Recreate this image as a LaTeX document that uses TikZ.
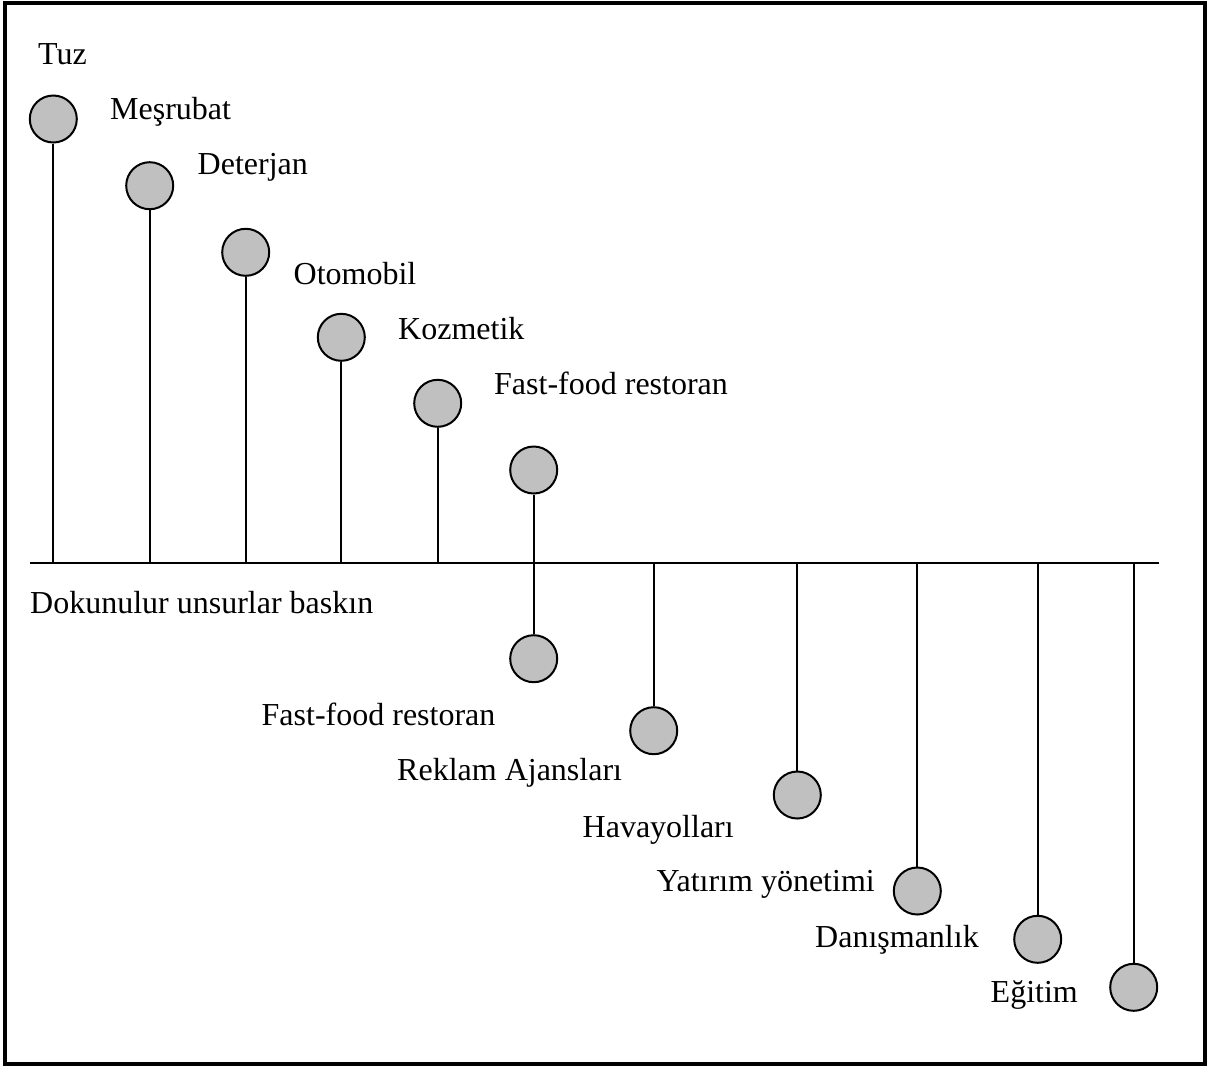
\documentclass[tikz,border=0pt]{standalone}
\usepackage{fontspec}
\setmainfont{Liberation Serif}
\definecolor{ballgray}{RGB}{192,192,192}
\begin{document}
\begin{tikzpicture}[x=1pt,y=-1pt,
  ball/.style={circle,draw=black,fill=ballgray,line width=2pt,minimum size=47pt,inner sep=0pt},
  stem/.style={line width=2pt},
  lbl/.style={anchor=base west,inner sep=0pt,font=\fontsize{32}{38}\selectfont}]
  % page frame
  \useasboundingbox (0,0) rectangle (1207,1066);
  \draw[line width=4pt] (4.7,3) rectangle (1205.2,1063.8);

  % axis
  \coordinate (axL) at (29.5,563);
  \coordinate (axR) at (1158.7,563);
  \draw[stem] (axL) -- (axR);

  % stems meeting the axis
  \foreach \i/\x in {1/53.3,2/149.7,3/245.7,4/341.3,5/437.7,6/533.7,7/533.7,8/653.7,9/797.3,10/917.3,11/1037.7,12/1133.7}
    \coordinate (a\i) at (\x,563);

  % balls above the axis
  \node[ball] (c1) at (53.3,119) {};
  \node[ball] (c2) at (149.7,185.7) {};
  \node[ball] (c3) at (245.7,252.3) {};
  \node[ball] (c4) at (341.3,337.3) {};
  \node[ball] (c5) at (437.7,403.3) {};
  \node[ball] (c6) at (533.7,470) {};
  % balls below the axis
  \node[ball] (c7) at (533.7,658.7) {};
  \node[ball] (c8) at (653.7,730.7) {};
  \node[ball] (c9) at (797.3,795) {};
  \node[ball] (c10) at (917.3,891) {};
  \node[ball] (c11) at (1037.7,939.3) {};
  \node[ball] (c12) at (1133.7,987.3) {};

  \foreach \i in {1,...,12}
    \draw[stem] (c\i) -- (a\i);

  % labels
  \node[lbl] (t1) at (38,64) {Tuz};
  \node[lbl] (t2) at (110,119) {Meşrubat};
  \node[lbl] (t3) at (197.5,174) {Deterjan};
  \node[lbl] (t4) at (293.5,284) {Otomobil};
  \node[lbl] (t5) at (398,339) {Kozmetik};
  \node[lbl] (t6) at (494,394) {Fast-food restoran};
  \node[lbl] (ax) at (30,613) {Dokunulur unsurlar baskın};
  \node[lbl] (t7) at (261.5,725) {Fast-food restoran};
  \node[lbl] (t8) at (397,780) {Reklam Ajansları};
  \node[lbl] (t9) at (582.5,837) {Havayolları};
  \node[lbl] (t10) at (656.5,891) {Yatırım yönetimi};
  \node[lbl] (t11) at (815,947) {Danışmanlık};
  \node[lbl] (t12) at (990.5,1002) {Eğitim};
\end{tikzpicture}
\end{document}
